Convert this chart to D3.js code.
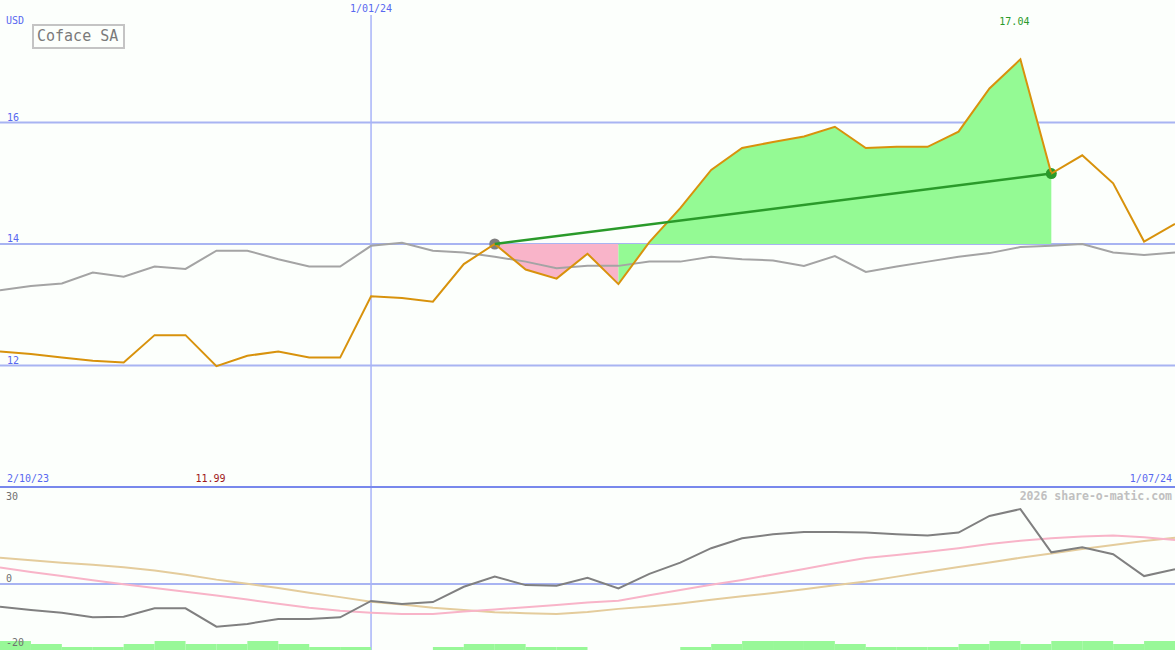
<!DOCTYPE html>
<html>
<head>
<meta charset="utf-8">
<script src="https://cdn.jsdelivr.net/npm/d3@7"></script>
<style>
body { margin: 0; background: #fcfffc; }
svg { display: block; }
</style>
</head>
<body>
<div class="container"></div>
<script>
const WIDTH = 1175;
const HEIGHT = 650;
const SPLIT = 487;

// weekly dates, d/mm/yy
const dates = ['9/10/23', '16/10/23', '23/10/23', '30/10/23', '6/11/23', '13/11/23', '20/11/23', '27/11/23',
    '4/12/23', '11/12/23', '18/12/23', '25/12/23', '1/01/24', '8/01/24', '15/01/24', '22/01/24', '29/01/24',
    '5/02/24', '12/02/24', '19/02/24', '26/02/24', '4/03/24', '11/03/24', '18/03/24', '25/03/24', '1/04/24',
    '8/04/24', '15/04/24', '22/04/24', '29/04/24', '6/05/24', '13/05/24', '20/05/24', '27/05/24', '3/06/24',
    '10/06/24', '17/06/24', '24/06/24', '1/07/24'];

const price = [12.23, 12.19, 12.13, 12.08, 12.05, 12.50, 12.50, 11.99, 12.16, 12.23, 12.13, 12.13, 13.14,
    13.11, 13.05, 13.67, 14.00, 13.58, 13.43, 13.84, 13.34, 14.03, 14.59, 15.22, 15.58, 15.68, 15.77, 15.93,
    15.58, 15.60, 15.60, 15.85, 16.56, 17.04, 15.16, 15.46, 15.00, 14.04, 14.33];

const market = [13.24, 13.31, 13.35, 13.53, 13.46, 13.63, 13.59, 13.89, 13.89, 13.75, 13.63, 13.63, 13.97,
    14.02, 13.89, 13.86, 13.79, 13.71, 13.60, 13.64, 13.64, 13.71, 13.71, 13.79, 13.75, 13.73, 13.64, 13.80,
    13.54, 13.63, 13.71, 13.79, 13.85, 13.95, 13.97, 14.00, 13.86, 13.82, 13.86];

const momentum = [-8.3, -9.5, -10.5, -12.2, -12.0, -8.9, -8.9, -15.6, -14.6, -12.8, -12.8, -12.2, -6.2, -7.3,
    -6.6, -1.0, 2.7, -0.4, -0.6, 2.3, -1.6, 3.7, 7.8, 13.1, 16.7, 18.2, 19.0, 19.0, 18.8, 18.2, 17.7, 18.8,
    24.9, 27.4, 11.6, 13.4, 10.9, 2.9, 5.4];

const maFast = [6.0, 4.4, 2.9, 1.4, -0.1, -1.5, -2.8, -4.2, -5.7, -7.2, -8.7, -9.8, -10.5, -11.0, -11.0,
    -10.1, -9.3, -8.5, -7.7, -6.8, -6.1, -4.1, -2.2, -0.3, 1.5, 3.5, 5.5, 7.6, 9.5, 10.6, 11.8, 13.1, 14.6,
    15.8, 16.7, 17.4, 17.7, 17.1, 16.1];

const maSlow = [9.6, 8.7, 7.8, 7.0, 6.1, 4.9, 3.4, 1.6, 0.1, -1.5, -3.2, -4.8, -6.5, -7.5, -8.7, -9.5, -10.3,
    -10.7, -11.0, -10.2, -9.1, -8.2, -7.1, -5.8, -4.5, -3.3, -1.9, -0.5, 0.9, 2.7, 4.5, 6.2, 7.9, 9.6, 11.2,
    12.8, 14.3, 15.7, 16.9];

const volume = [3, 2, 1, 1, 2, 3, 2, 2, 3, 2, 1, 1, 0, 0, 1, 2, 2, 1, 1, 0, 0, 0, 1, 2, 3, 3, 3, 2, 1, 1,
    1, 2, 3, 2, 3, 3, 2, 3, 0];

const priceTicks = [16, 14, 12];
const oscTicks = [30, 0, -20];
const markDate = '1/01/24';
const startLabel = '2/10/23';
const trendFrom = 16;
const trendTo = 34;
const lossTo = 20;

var translate = function(x, y) {
    return `translate(${x},${y})`;
};

var fillLayout = function() {
    var svg = d3.select('.container').append('svg')
        .attr('width', WIDTH)
        .attr('height', HEIGHT)
        .style('font-family', '"DejaVu Sans Mono", monospace');

    svg.append('rect').attr('width', WIDTH).attr('height', HEIGHT).attr('fill', '#fcfffc');

    let xScale = d3.scalePoint().domain(dates).range([0, WIDTH]);
    let step = xScale.step();
    let yScale = d3.scaleLinear().domain([10, 18]).range([SPLIT, 1]);
    let oScale = d3.scaleLinear().domain([0, 30]).range([584, 502]);
    let vScale = d3.scaleLinear().domain([0, 3]).range([HEIGHT, 641]);

    // grid
    svg.append('g').selectAll('line').data(priceTicks).enter()
        .append('line')
        .attr('x1', 0).attr('x2', WIDTH)
        .attr('y1', (d) => yScale(d)).attr('y2', (d) => yScale(d))
        .attr('stroke', '#a8b4f2').attr('stroke-width', 2);

    svg.append('line')
        .attr('x1', 0).attr('x2', WIDTH)
        .attr('y1', oScale(0)).attr('y2', oScale(0))
        .attr('stroke', '#a8b4f2').attr('stroke-width', 2);

    svg.append('line')
        .attr('x1', xScale(markDate)).attr('x2', xScale(markDate))
        .attr('y1', 15).attr('y2', HEIGHT)
        .attr('stroke', '#a8b4f8').attr('stroke-width', 1.5);

    // volume bars
    svg.append('g').selectAll('rect').data(volume).enter()
        .append('rect')
        .attr('x', (d, i) => xScale(dates[i]))
        .attr('width', step)
        .attr('y', (d) => vScale(d))
        .attr('height', (d) => HEIGHT - vScale(d))
        .attr('fill', '#98f898');

    // fills between price and the start level
    let base = price[trendFrom];
    let area = d3.area()
        .x((i) => xScale(dates[i]))
        .y0(yScale(base))
        .y1((i) => yScale(price[i]));
    let lossIdx = d3.range(trendFrom, lossTo + 1);
    let gainIdx = d3.range(lossTo, trendTo + 1);
    svg.append('path').attr('d', area(lossIdx)).attr('fill', '#f9b4c9');
    svg.append('path').attr('d', area(gainIdx)).attr('fill', '#94fa94');

    // trend markers
    svg.append('circle')
        .attr('cx', xScale(dates[trendFrom])).attr('cy', yScale(price[trendFrom]))
        .attr('r', 5.5).attr('fill', '#7e7e7e');
    svg.append('circle')
        .attr('cx', xScale(dates[trendTo])).attr('cy', yScale(price[trendTo]))
        .attr('r', 5.5).attr('fill', '#2a9a2a');

    // main lines
    var priceLine = d3.line()
        .x((d, i) => xScale(dates[i]))
        .y((d) => yScale(d));

    svg.append('path').attr('d', priceLine(market))
        .attr('fill', 'none').attr('stroke', '#a4a4a4').attr('stroke-width', 2);
    svg.append('path').attr('d', priceLine(price))
        .attr('fill', 'none').attr('stroke', '#d8920c').attr('stroke-width', 2);

    svg.append('line')
        .attr('x1', xScale(dates[trendFrom])).attr('y1', yScale(price[trendFrom]))
        .attr('x2', xScale(dates[trendTo])).attr('y2', yScale(price[trendTo]))
        .attr('stroke', '#2a9a2a').attr('stroke-width', 2.5);

    // oscillator panel
    var oscLine = d3.line()
        .x((d, i) => xScale(dates[i]))
        .y((d) => oScale(d));
    svg.append('path').attr('d', oscLine(maSlow))
        .attr('fill', 'none').attr('stroke', '#e4cc9c').attr('stroke-width', 2);
    svg.append('path').attr('d', oscLine(maFast))
        .attr('fill', 'none').attr('stroke', '#f8b4c8').attr('stroke-width', 2);
    svg.append('path').attr('d', oscLine(momentum))
        .attr('fill', 'none').attr('stroke', '#808080').attr('stroke-width', 2);

    svg.append('line')
        .attr('x1', 0).attr('x2', WIDTH)
        .attr('y1', SPLIT).attr('y2', SPLIT)
        .attr('stroke', '#7888ec').attr('stroke-width', 2);

    // labels
    var blue = '#5868f0';
    svg.append('g').selectAll('text').data(priceTicks).enter()
        .append('text')
        .attr('x', 7).attr('y', (d) => yScale(d) - 2)
        .attr('font-size', 10).attr('fill', blue)
        .text((d) => d);

    svg.append('g').selectAll('text').data(oscTicks).enter()
        .append('text')
        .attr('x', 6)
        .attr('y', (d, i) => i === oscTicks.length - 1 ? HEIGHT - 4 : oScale(d) - 2)
        .attr('font-size', 10).attr('fill', '#707070')
        .text((d) => d);

    svg.append('text').attr('x', 6).attr('y', 24)
        .attr('font-size', 10).attr('fill', blue).text('USD');

    svg.append('text').attr('x', xScale(markDate)).attr('y', 12)
        .attr('text-anchor', 'middle')
        .attr('font-size', 10).attr('fill', blue).text(markDate);

    svg.append('text').attr('x', 7).attr('y', 482)
        .attr('font-size', 10).attr('fill', blue).text(startLabel);

    svg.append('text').attr('x', WIDTH - 3).attr('y', 482)
        .attr('text-anchor', 'end')
        .attr('font-size', 10).attr('fill', blue).text(dates[dates.length - 1]);

    let hi = d3.maxIndex(price);
    let lo = d3.minIndex(price);
    svg.append('text').attr('x', xScale(dates[hi]) - 6).attr('y', 25)
        .attr('text-anchor', 'middle')
        .attr('font-size', 10).attr('fill', '#2a9a2a').text(price[hi].toFixed(2));
    svg.append('text').attr('x', xScale(dates[lo]) - 6).attr('y', 482)
        .attr('text-anchor', 'middle')
        .attr('font-size', 10).attr('fill', '#a01818').text(price[lo].toFixed(2));

    svg.append('text').attr('x', WIDTH - 3).attr('y', 500)
        .attr('text-anchor', 'end')
        .attr('font-size', 11.5).attr('font-weight', 'bold').attr('fill', '#c0c0c0')
        .text('2026 share-o-matic.com');

    // title box
    var title = svg.append('g').attr('transform', translate(33, 25));
    title.append('rect').attr('width', 91).attr('height', 23)
        .attr('fill', '#fcfffc').attr('stroke', '#c4c4c4').attr('stroke-width', 2);
    title.append('text').attr('x', 4).attr('y', 16)
        .attr('font-size', 15).attr('fill', '#7a7a7a').text('Coface SA');
};
window.onload = fillLayout;
</script>
</body>
</html>
